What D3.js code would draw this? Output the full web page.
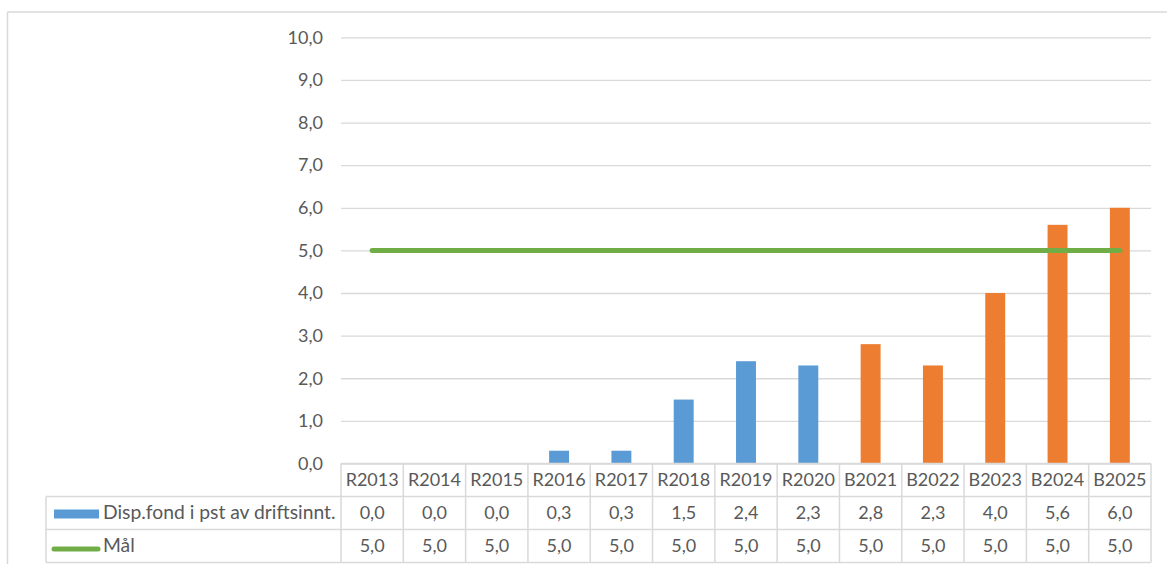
<!DOCTYPE html>
<html>
<head>
<meta charset="utf-8">
<script src="https://cdn.jsdelivr.net/npm/d3@7"></script>
<style>
  html, body { margin: 0; padding: 0; background: #fff; }
  svg { display: block; font-family: Lato, "Open Sans", sans-serif; }
</style>
</head>
<body>
<svg id="chart" width="1167" height="564"></svg>
<script>
// Disposisjonsfond i prosent av driftsinntekter, regnskap (R) og budsjett (B)
const categories = ["R2013", "R2014", "R2015", "R2016", "R2017", "R2018", "R2019",
                    "R2020", "B2021", "B2022", "B2023", "B2024", "B2025"];
const dispFond = [0.0, 0.0, 0.0, 0.3, 0.3, 1.5, 2.4, 2.3, 2.8, 2.3, 4.0, 5.6, 6.0];
const maal = [5.0, 5.0, 5.0, 5.0, 5.0, 5.0, 5.0, 5.0, 5.0, 5.0, 5.0, 5.0, 5.0];
const seriesNames = ["Disp.fond i pst av driftsinnt.", "Mål"];
const yTicks = [0, 1, 2, 3, 4, 5, 6, 7, 8, 9, 10];

const colRegnskap = "#5B9BD5";
const colBudsjett = "#ED7D31";
const colMaal = "#70AD47";
const gridCol = "#D9D9D9";
const textCol = "#595959";

const nb = d3.formatLocale({ decimal: ",", thousands: " ", grouping: [3], currency: ["", " kr"] });
const fmt = nb.format(".1f");

const svg = d3.select("#chart");

// plot geometry
const plotLeft = 341, plotRight = 1151;
const plotTop = 37.3, plotBottom = 463.5;
const rowH = 33;
const legendLeft = 46;

const x = d3.scaleBand().domain(categories).range([plotLeft, plotRight]).padding(0);
const y = d3.scaleLinear().domain([0, 10]).range([plotBottom, plotTop]);
const barW = x.bandwidth() * 0.32;

// outer chart frame (top and left edges visible)
svg.append("line").attr("x1", 7.5).attr("x2", 1167).attr("y1", 12).attr("y2", 12)
  .attr("stroke", gridCol).attr("stroke-width", 1.5);
svg.append("line").attr("x1", 7.5).attr("x2", 7.5).attr("y1", 12).attr("y2", 564)
  .attr("stroke", gridCol).attr("stroke-width", 1.5);

// horizontal gridlines
svg.append("g")
  .attr("transform", `translate(${plotLeft},0)`)
  .call(d3.axisLeft(y).tickValues(yTicks).tickSize(-(plotRight - plotLeft)).tickFormat(""))
  .call(g => g.select(".domain").remove())
  .call(g => g.selectAll(".tick line").attr("stroke", gridCol).attr("stroke-width", 1.3));

// y axis labels
svg.append("g")
  .attr("transform", `translate(${plotLeft - 18},0)`)
  .call(d3.axisLeft(y).tickValues(yTicks).tickSize(0).tickPadding(0).tickFormat(fmt))
  .call(g => g.select(".domain").remove())
  .call(g => g.selectAll(".tick text")
    .attr("fill", textCol).attr("font-size", 18).attr("font-family", "Lato, sans-serif"));

// bars
svg.append("g").selectAll("rect")
  .data(categories.map((c, i) => ({ c, v: dispFond[i] })))
  .join("rect")
  .attr("x", d => x(d.c) + (x.bandwidth() - barW) / 2)
  .attr("y", d => y(d.v))
  .attr("width", barW)
  .attr("height", d => y(0) - y(d.v))
  .attr("fill", d => d.c.startsWith("B") ? colBudsjett : colRegnskap);

// target line
const line = d3.line()
  .x((d, i) => x(categories[i]) + x.bandwidth() / 2)
  .y(d => y(d));
svg.append("path")
  .datum(maal)
  .attr("d", line)
  .attr("fill", "none")
  .attr("stroke", colMaal)
  .attr("stroke-width", 5)
  .attr("stroke-linecap", "round");

// data table
const table = svg.append("g");
const rowTop = [plotBottom, plotBottom + rowH, plotBottom + 2 * rowH];
const tableBottom = plotBottom + 3 * rowH;

// header row (categories) and value rows
const rows = [categories, dispFond.map(fmt), maal.map(fmt)];
rows.forEach((vals, r) => {
  table.append("g").selectAll("text")
    .data(vals)
    .join("text")
    .attr("x", (d, i) => x(categories[i]) + x.bandwidth() / 2)
    .attr("y", rowTop[r] + rowH / 2 + 6)
    .attr("text-anchor", "middle")
    .attr("fill", textCol)
    .attr("font-size", 18)
    .text(d => d);
});

// table grid lines
const tg = table.append("g").attr("stroke", gridCol).attr("stroke-width", 1.5);
// horizontal
tg.append("line").attr("x1", plotLeft).attr("x2", plotRight).attr("y1", rowTop[0]).attr("y2", rowTop[0]);
[rowTop[1], rowTop[2], tableBottom].forEach(yy =>
  tg.append("line").attr("x1", legendLeft).attr("x2", plotRight).attr("y1", yy).attr("y2", yy));
// vertical column separators
x.domain().concat(["__end"]).forEach((c, i) => {
  const xx = i < categories.length ? x(c) : plotRight;
  tg.append("line").attr("x1", xx).attr("x2", xx).attr("y1", rowTop[0]).attr("y2", tableBottom);
});
tg.append("line").attr("x1", legendLeft).attr("x2", legendLeft).attr("y1", rowTop[1]).attr("y2", tableBottom);

// legend keys inside the table
table.append("rect")
  .attr("x", 54).attr("y", rowTop[1] + 13).attr("width", 45).attr("height", 9)
  .attr("fill", colRegnskap);
table.append("line")
  .attr("x1", 54).attr("x2", 98).attr("y1", rowTop[2] + 19.5).attr("y2", rowTop[2] + 19.5)
  .attr("stroke", colMaal).attr("stroke-width", 5).attr("stroke-linecap", "round");
seriesNames.forEach((name, k) => {
  table.append("text")
    .attr("x", 103)
    .attr("y", rowTop[k + 1] + rowH / 2 + 6)
    .attr("fill", textCol)
    .attr("font-size", 19.3)
    .text(name);
});
</script>
</body>
</html>
